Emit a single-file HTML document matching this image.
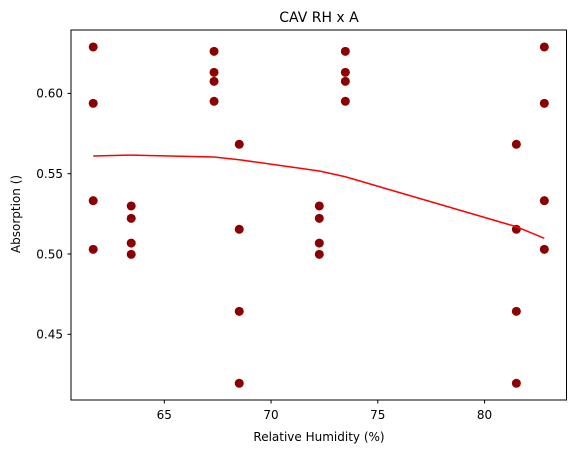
<!DOCTYPE html>
<html><head><meta charset="utf-8"><style>
body{margin:0;background:#fff}
svg text{font-family:"DejaVu Sans","Liberation Sans",sans-serif;fill:#000}
</style></head><body>
<svg id="chart" width="576" height="453" xmlns="http://www.w3.org/2000/svg">
<rect width="576" height="453" fill="#fff"/>
<text x="319" y="22" font-size="14" text-anchor="middle">CAV RH x A</text>
<text x="319" y="441" font-size="12" text-anchor="middle">Relative Humidity (%)</text>
<text transform="translate(20,214) rotate(-90)" font-size="12" text-anchor="middle">Absorption ()</text>
<g id="ticks"></g>
<g id="pts"></g>
<g id="ln"></g>
<rect x="71" y="30" width="495.5" height="370" fill="none" stroke="#000" stroke-width="1"/>
</svg>
<script>
const xTicks=[65,70,75,80];
const yTicks=[0.45,0.50,0.55,0.60];
const yTickLabels=["0.45","0.50","0.55","0.60"];
const pointX=[61.67,61.67,61.67,61.67,63.45,63.45,63.45,63.45,67.33,67.33,67.33,67.33,68.51,68.51,68.51,68.51,72.26,72.26,72.26,72.26,73.48,73.48,73.48,73.48,81.49,81.49,81.49,81.49,82.8,82.8,82.8,82.8];
const pointY=[0.6289,0.5938,0.5332,0.5029,0.5299,0.5222,0.5068,0.4998,0.6262,0.6131,0.6075,0.5951,0.5683,0.5154,0.4643,0.4195,0.5299,0.5222,0.5068,0.4998,0.6262,0.6131,0.6075,0.5951,0.5683,0.5154,0.4643,0.4195,0.6289,0.5938,0.5332,0.5029];
const lineX=[61.67,63.45,67.33,68.51,72.26,73.48,81.49,82.8];
const lineY=[0.5610,0.5616,0.5604,0.5587,0.5517,0.5481,0.5170,0.5098];
const NS="http://www.w3.org/2000/svg";
const X=v=>164.3+(v-65)*21.35;
const Y=v=>254-(v-0.5)*1606;
function mk(t,a,p){const e=document.createElementNS(NS,t);for(const k in a)e.setAttribute(k,a[k]);p.appendChild(e);return e;}
const tg=document.getElementById('ticks');
xTicks.forEach(v=>{
  const l=mk('line',{x1:X(v),x2:X(v),y1:400,y2:403.5,stroke:'#000'},tg);
  
  
  const t=mk('text',{x:X(v),y:419,'font-size':12,'text-anchor':'middle'},tg);t.textContent=v;
  
  
});
yTicks.forEach((v,i)=>{
  const l=mk('line',{x1:67.5,x2:71,y1:Y(v),y2:Y(v),stroke:'#000'},tg);
  
  
  const t=mk('text',{x:63,y:Y(v)+4.3,'font-size':12,'text-anchor':'end'},tg);t.textContent=yTickLabels[i];
  
  
});
const pg=document.getElementById('pts');
pointX.forEach((x,i)=>{
  const c=mk('circle',{cx:X(x),cy:Y(pointY[i]),r:4.5,fill:'#8b0000'},pg);
  
  
});
const lg=document.getElementById('ln');
const p=mk('polyline',{points:lineX.map((x,i)=>X(x)+','+Y(lineY[i])).join(' '),fill:'none',stroke:'#ff0000','stroke-width':1.5},lg);


</script>
</body></html>
